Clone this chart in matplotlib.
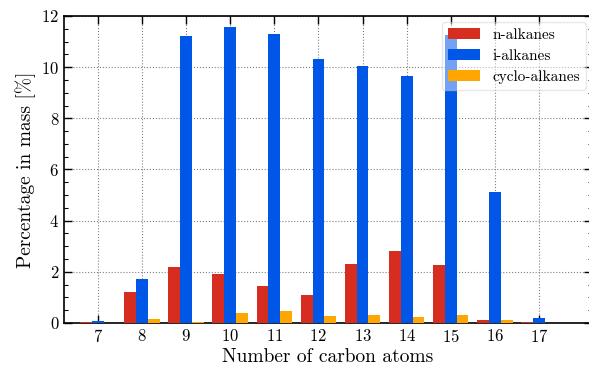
import numpy as np
import matplotlib
matplotlib.use("Agg")
import matplotlib.pyplot as plt
from matplotlib.ticker import MultipleLocator

plt.rcParams['font.family'] = 'serif'
plt.rcParams['font.serif'] = ['cmr10', 'DejaVu Serif']
plt.rcParams['mathtext.fontset'] = 'cm'
plt.rcParams['axes.formatter.use_mathtext'] = True

# Mass percentage per carbon number
carbons = [7, 8, 9, 10, 11, 12, 13, 14, 15, 16, 17]
n_alkanes = [0.02, 1.20, 2.18, 1.90, 1.43, 1.08, 2.29, 2.80, 2.25, 0.10, 0.02]
i_alkanes = [0.06, 1.71, 11.22, 11.56, 11.29, 10.31, 10.03, 9.64, 11.25, 5.11, 0.18]
cyclo_alkanes = [0.01, 0.14, 0.02, 0.38, 0.46, 0.27, 0.30, 0.22, 0.30, 0.10, 0.01]

labels = ['n-alkanes', 'i-alkanes', 'cyclo-alkanes']
colors = ['#d62d20', '#0057e7', '#ffa700']

x = np.array(carbons)
w = 0.8 / 3

fig = plt.figure(figsize=(5.89, 3.69), dpi=100)
# axes runs slightly past the right edge of the figure (cropped like the original)
ax = fig.add_axes([0.1087, 0.1247, 0.8964, 0.832])

for i, (vals, lab, c) in enumerate(zip([n_alkanes, i_alkanes, cyclo_alkanes], labels, colors)):
    ax.bar(x + (i - 1) * w, vals, width=w, color=c, label=lab, zorder=3)

ax.set_xlim(6.236, 18.2)
ax.set_ylim(0, 12)
ax.set_xticks(carbons)
ax.yaxis.set_major_locator(MultipleLocator(2))
ax.yaxis.set_minor_locator(MultipleLocator(0.5))
ax.grid(True, which='major', linestyle=':', color='gray', linewidth=0.8, zorder=0)

ax.tick_params(which='both', direction='in', top=True, right=True, labelsize=12)
ax.tick_params(which='major', length=6, width=1)
ax.tick_params(which='minor', length=3, width=0.8)
for s in ax.spines.values():
    s.set_linewidth(1.2)

ax.set_xlabel('Number of carbon atoms', fontsize=14, labelpad=2)
ax.set_ylabel('Percentage in mass [%]', fontsize=14)

ax.legend(loc='upper right', fontsize=11, framealpha=0.45, handlelength=2.1,
          handleheight=0.75, labelspacing=0.45, borderaxespad=0.4)

fig.savefig('out.png', dpi=100)
